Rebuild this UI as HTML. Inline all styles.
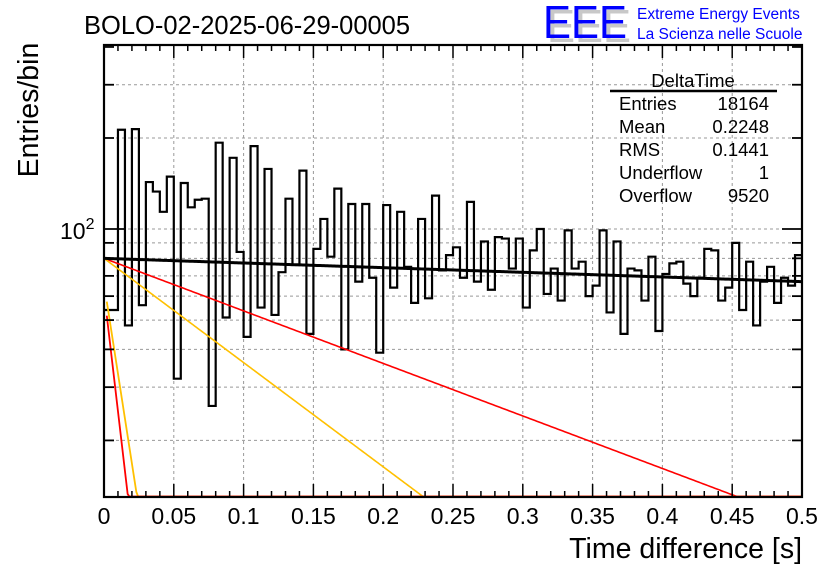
<!DOCTYPE html>
<html><head><meta charset="utf-8"><style>
body{margin:0;background:#fff;}
svg{display:block;font-family:"Liberation Sans",sans-serif;}
</style></head><body>
<svg id="chart" width="836" height="572" viewBox="0 0 836 572">
<text x="84" y="34" font-size="25.5">BOLO-02-2025-06-29-00005</text>
<g>
<text x="547" y="42" font-size="46" fill="#c8c8c8" textLength="84" lengthAdjust="spacingAndGlyphs">EEE</text>
<text x="543" y="38" font-size="46" fill="#0000ff" textLength="84" lengthAdjust="spacingAndGlyphs">EEE</text>
<text x="637" y="19" font-size="15.5" fill="#0000ff">Extreme Energy Events</text>
<text x="637" y="39" font-size="15.5" fill="#0000ff">La Scienza nelle Scuole</text>
</g>
<g id="grid"></g>
<g id="series"></g>
<g id="axes"></g>
<text transform="translate(38,110) rotate(-90)" text-anchor="middle" font-size="28.5">Entries/bin</text>
<text x="802" y="558" text-anchor="end" font-size="28.5">Time difference [s]</text>
<g font-size="18.5">
<text x="693" y="87" text-anchor="middle">DeltaTime</text>
<line x1="610" y1="91" x2="777" y2="91" stroke="#000" stroke-width="2.5"/>
<text x="619" y="110">Entries</text><text x="769" y="110" text-anchor="end">18164</text>
<text x="619" y="133">Mean</text><text x="769" y="133" text-anchor="end">0.2248</text>
<text x="619" y="156">RMS</text><text x="769" y="156" text-anchor="end">0.1441</text>
<text x="619" y="179">Underflow</text><text x="769" y="179" text-anchor="end">1</text>
<text x="619" y="202">Overflow</text><text x="769" y="202" text-anchor="end">9520</text>
</g>
</svg>
<script>
const binCounts = [54,54,213,48,214,56,143,133,114,149,32,142,118,125,126,26,193,51,172,84,44,188,55,158,52,
72,126,76,156,45,86,108,81,136,40,121,67,121,69,39,120,64,114,75,57,108,59,129,73,82,
87,69,123,67,91,63,94,93,74,93,55,85,100,61,74,58,99,74,78,60,65,99,53,91,45,
74,73,58,81,46,71,77,78,66,60,69,86,85,58,64,90,54,78,48,67,75,57,69,65,82];
const xTickLabels = ["0","0.05","0.1","0.15","0.2","0.25","0.3","0.35","0.4","0.45","0.5"];
const yGridValues = [20,30,40,50,60,70,80,90,100,200,300];
const fitBlack = [80, 2.82];
const fitRedSlow = [80, 0.25];
const fitYellowSlow = [80, 0.126];
const fitRedFast = [62, 0.011];
const fitYellowFast = [66, 0.0146];

const X0=104,X1=802,Y0=497,Y1=45,XMIN=0,XMAX=0.5,LYMIN=Math.log10(13),LYMAX=Math.log10(406);
const sx=v=>X0+(v-XMIN)/(XMAX-XMIN)*(X1-X0);
const sy=v=>Y0-(Math.log10(v)-LYMIN)/(LYMAX-LYMIN)*(Y0-Y1);
const NS="http://www.w3.org/2000/svg";
function mk(tag,attrs,parent){const e=document.createElementNS(NS,tag);for(const k in attrs)e.setAttribute(k,attrs[k]);parent.appendChild(e);return e;}
const svg=document.getElementById('chart'),grid=document.getElementById('grid'),series=document.getElementById('series'),axes=document.getElementById('axes');
const defs=mk('defs',{},svg);const cp=mk('clipPath',{id:'clip'},defs);mk('rect',{x:X0,y:Y1,width:X1-X0,height:Y0-Y1},cp);
series.setAttribute('clip-path','url(#clip)');
xTickLabels.forEach((t,i)=>{const x=sx(parseFloat(t));if(i>0&&i<xTickLabels.length-1){const l=mk('line',{x1:x,x2:x,y1:Y1,y2:Y0,stroke:'#999','stroke-dasharray':'3,3','stroke-width':1},grid);

}});
yGridValues.forEach(v=>{const y=sy(v);const l=mk('line',{x1:X0,x2:X1,y1:y,y2:y,stroke:'#999','stroke-dasharray':'3,3','stroke-width':1},grid);

});
const bw=(XMAX-XMIN)/binCounts.length;let d='';
binCounts.forEach((c,i)=>{const xa=sx(XMIN+i*bw),xb=sx(XMIN+(i+1)*bw),y=sy(c);d+=(i===0?`M${xa},${y}`:`L${xa},${y}`)+`L${xb},${y}`;});
const h=mk('path',{d:d,fill:'none',stroke:'#000','stroke-width':2.2},series);


function curve(p,color,w,name,x0){let s='';const n=400;for(let i=0;i<=n;i++){const t=x0+(XMAX-x0)*i/n;const v=Math.max(p[0]*Math.exp(-t/p[1]),13.05);s+=(i?'L':'M')+sx(t)+','+sy(v);}
const e=mk('path',{d:s,fill:'none',stroke:color,'stroke-width':w},series);

}
curve(fitRedSlow,'#ff0000',1.6,'fit-red-slow',0);
curve(fitYellowSlow,'#ffc000',1.6,'fit-yellow-slow',0);
curve(fitYellowFast,'#ffc000',1.8,'fit-yellow-fast',0.002);
curve(fitRedFast,'#ff0000',1.8,'fit-red-fast',0.002);
curve(fitBlack,'#000',3,'fit-total',0);
const fr=mk('rect',{x:X0,y:Y1,width:X1-X0,height:Y0-Y1,fill:'none',stroke:'#000','stroke-width':2.2},axes);


for(let i=0;i<=50;i++){const x=sx(i*0.01);const L=(i%5===0)?13:6;
mk('line',{x1:x,x2:x,y1:Y0,y2:Y0-L,stroke:'#000','stroke-width':1.5},axes);
mk('line',{x1:x,x2:x,y1:Y1,y2:Y1+L,stroke:'#000','stroke-width':1.5},axes);}
xTickLabels.forEach(t=>{const tx=mk('text',{x:sx(parseFloat(t)),y:524,'text-anchor':'middle','font-size':23},axes);tx.textContent=t;

});
yGridValues.concat([400]).forEach(v=>{const y=sy(v);const L=v===100?20:10;
mk('line',{x1:X0,x2:X0+L,y1:y,y2:y,stroke:'#000','stroke-width':1.8},axes);
mk('line',{x1:X1,x2:X1-L,y1:y,y2:y,stroke:'#000','stroke-width':1.8},axes);});
const yl=mk('text',{x:60,y:sy(100)+10,'font-size':23},axes);yl.innerHTML='10<tspan dy="-10" font-size="16">2</tspan>';


</script>
</body></html>
